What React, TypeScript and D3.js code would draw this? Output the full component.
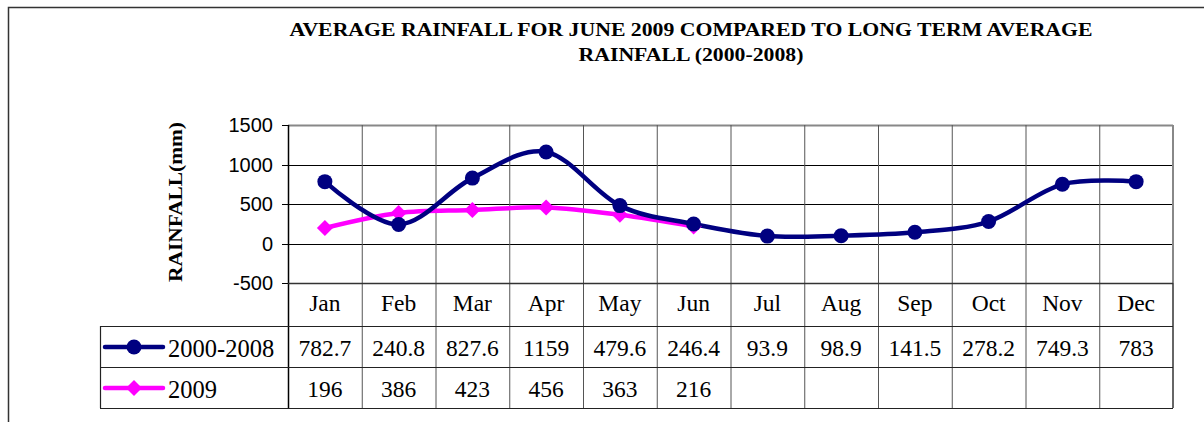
import React from "react";
import * as d3 from "d3";

const months = ["Jan", "Feb", "Mar", "Apr", "May", "Jun", "Jul", "Aug", "Sep", "Oct", "Nov", "Dec"];
const avg2000_2008 = [782.7, 240.8, 827.6, 1159, 479.6, 246.4, 93.9, 98.9, 141.5, 278.2, 749.3, 783];
const labels2000_2008 = ["782.7", "240.8", "827.6", "1159", "479.6", "246.4", "93.9", "98.9", "141.5", "278.2", "749.3", "783"];
const rain2009 = [196, 386, 423, 456, 363, 216];
const labels2009 = ["196", "386", "423", "456", "363", "216"];
const yTicks = [-500, 0, 500, 1000, 1500];
const seriesNames = ["2000-2008", "2009"];
const titleLines = ["AVERAGE RAINFALL FOR JUNE 2009 COMPARED TO LONG TERM AVERAGE", "RAINFALL (2000-2008)"];

export default function App() {
  const W = 1204, H = 422;
  const left = 288, right = 1173, top = 125, bottom = 283;
  const row1 = 326, row2 = 367, row3 = 408, legendLeft = 100;
  const x = d3.scaleBand<string>().domain(months).range([left, right]);
  const cx = (m: string) => (x(m) as number) + x.bandwidth() / 2;
  const y = d3.scaleLinear().domain([-500, 1500]).range([bottom, top]);
  const line = d3.line<number>().x((_, i) => cx(months[i])).y((v) => y(v)).curve(d3.curveCardinal.tension(0));
  const navy = "#000080", mag = "#FF00FF";
  const serif = "'Liberation Serif', 'Times New Roman', serif";
  const sans = "'Liberation Sans', Arial, sans-serif";
  const diamond = (px: number, py: number, r: number) => `M${px},${py - r}L${px + r},${py}L${px},${py + r}L${px - r},${py}Z`;
  const titleWidths = [803, 225];
  const fs = 23.5;

  return (
    <svg width={W} height={H} style={{ position: "absolute", left: 0, top: 0 }}>
      <rect x={0} y={0} width={W} height={H} fill="#fff" />
      <rect x={8.5} y={7.5} width={1300} height={500} fill="none" stroke="#333" strokeWidth={1.5} />
      {titleLines.map((t, i) => (
        <text key={i} x={691} y={36 + i * 25} textAnchor="middle" fontFamily={serif} fontWeight="bold" fontSize={19.5} textLength={titleWidths[i]} lengthAdjust="spacingAndGlyphs">{t}</text>
      ))}
      {/* horizontal grid */}
      {yTicks.map((t) => (
        <g key={t}>
          <line x1={left} x2={right} y1={Math.round(y(t)) + 0.5} y2={Math.round(y(t)) + 0.5} stroke={t === 1500 ? "#888" : "#000"} strokeWidth={t === 1500 ? 2 : 1} />
          <line x1={left - 6} x2={left} y1={Math.round(y(t)) + 0.5} y2={Math.round(y(t)) + 0.5} stroke="#000" />
          <text x={273} y={y(t) + 7} textAnchor="end" fontFamily={sans} fontSize={20}>{t}</text>
        </g>
      ))}
      {/* vertical grid through table */}
      {months.map((m, i) => (
        <line key={m} x1={(x(m) as number) + 0.5} x2={(x(m) as number) + 0.5} y1={top} y2={row3} stroke={i === 0 ? "#000" : "#555"} strokeWidth={i === 0 ? 1.5 : 1} />
      ))}
      <line x1={right} x2={right} y1={top} y2={bottom} stroke="#888" strokeWidth={2} />
      <line x1={right} x2={right} y1={bottom} y2={row3} stroke="#333" strokeWidth={1.5} />
      <line x1={left} x2={right} y1={bottom + 0.5} y2={bottom + 0.5} stroke="#333" strokeWidth={1.5} />
      {[row1, row2, row3].map((r) => (
        <line key={r} x1={legendLeft} x2={right} y1={r + 0.5} y2={r + 0.5} stroke="#222" strokeWidth={1.2} />
      ))}
      <line x1={legendLeft + 0.5} x2={legendLeft + 0.5} y1={row1} y2={row3} stroke="#222" strokeWidth={1.2} />
      {/* y axis title */}
      <text transform={`translate(182,202) rotate(-90)`} textAnchor="middle" fontFamily={serif} fontWeight="bold" fontSize={19} textLength={160} lengthAdjust="spacingAndGlyphs">RAINFALL(mm)</text>
      {/* category labels */}
      {months.map((m) => (
        <text key={m} x={cx(m)} y={311} textAnchor="middle" fontFamily={serif} fontSize={fs}>{m}</text>
      ))}
      {labels2000_2008.map((v, i) => (
        <text key={i} x={cx(months[i])} y={356} textAnchor="middle" fontFamily={serif} fontSize={fs}>{v}</text>
      ))}
      {labels2009.map((v, i) => (
        <text key={i} x={cx(months[i])} y={397} textAnchor="middle" fontFamily={serif} fontSize={fs}>{v}</text>
      ))}
      {/* series lines */}
      <path d={line(rain2009) || ""} fill="none" stroke={mag} strokeWidth={4.5} />
      <path d={line(avg2000_2008) || ""} fill="none" stroke={navy} strokeWidth={4.5} />
      {rain2009.map((v, i) => (
        <path key={i} d={diamond(cx(months[i]), y(v), 8)} fill={mag} />
      ))}
      {avg2000_2008.map((v, i) => (
        <circle key={i} cx={cx(months[i])} cy={y(v)} r={7.5} fill={navy} />
      ))}
      {/* legend */}
      <line x1={105} x2={163} y1={347} y2={347} stroke={navy} strokeWidth={4.5} strokeLinecap="round" />
      <circle cx={134} cy={347} r={7.5} fill={navy} />
      <text x={168} y={357} fontFamily={serif} fontSize={24.5}>{seriesNames[0]}</text>
      <line x1={105} x2={163} y1={388} y2={388} stroke={mag} strokeWidth={4.5} strokeLinecap="round" />
      <path d={diamond(134, 388, 8)} fill={mag} />
      <text x={168} y={398} fontFamily={serif} fontSize={24.5}>{seriesNames[1]}</text>
    </svg>
  );
}
